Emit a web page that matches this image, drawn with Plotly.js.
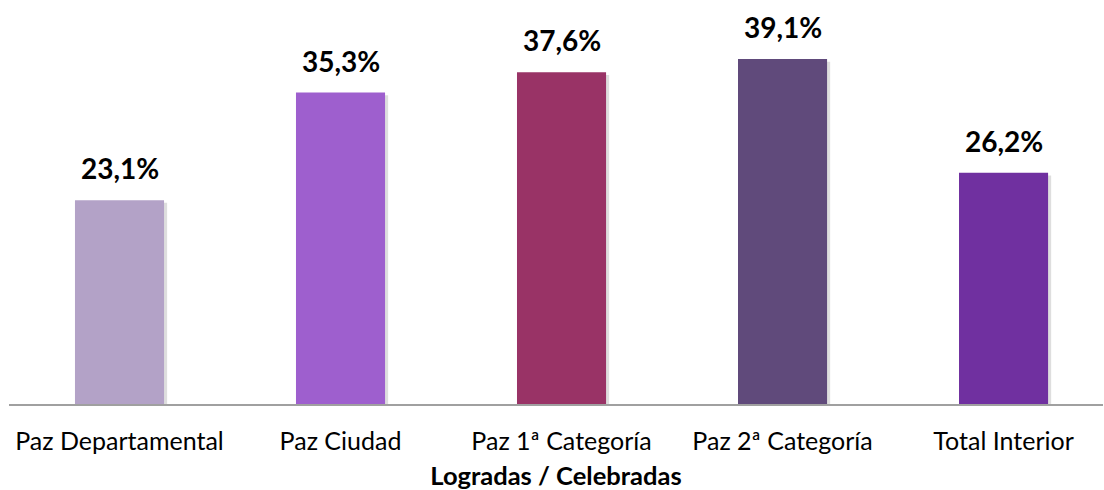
<!DOCTYPE html>
<html>
<head>
<meta charset="utf-8">
<script src="https://cdn.plot.ly/plotly-3.0.1.min.js"></script>
<style>html,body{margin:0;padding:0;background:#fff;}#chart{width:1104px;height:490px;}</style>
</head>
<body>
<div id="chart"></div>
<script>
const categories = ["Paz Departamental", "Paz Ciudad", "Paz 1ª Categoría", "Paz 2ª Categoría", "Total Interior"];
const values = [23.1, 35.3, 37.6, 39.1, 26.2];
const barColors = ["#B3A2C7", "#9E5FCE", "#993366", "#604A7B", "#7030A0"];
const axisTitle = "Logradas / Celebradas";

const labels = values.map(v => v.toFixed(1).replace('.', ',') + '%');
const FONT = "Lato, 'Open Sans', sans-serif";
const BW = 0.403;

const shadow = {
  type: 'bar',
  x: categories,
  y: values.map(v => v - 0.3),
  width: BW, offset: -BW / 2 + 0.014,
  marker: {color: 'rgba(0,0,0,0.13)', line: {width: 0}},
  hoverinfo: 'skip'
};

const trace = {
  type: 'bar',
  x: categories,
  y: values,
  width: BW, offset: -BW / 2,
  marker: {color: barColors, line: {width: 0}},
  hoverinfo: 'skip'
};

const annotations = categories.map((c, i) => ({
  x: c, y: values[i], xref: 'x', yref: 'y',
  text: '<b>' + labels[i] + '</b>',
  showarrow: false, yanchor: 'bottom', yshift: 13,
  font: {family: FONT, size: 28, color: '#000'}
}));

const layout = {
  width: 1104, height: 490,
  margin: {l: 9, r: 1, t: 7, b: 86},
  paper_bgcolor: '#fff', plot_bgcolor: '#fff',
  barmode: 'overlay',
  showlegend: false,
  xaxis: {
    range: [-0.5, 4.45],
    showline: true, linecolor: '#A0A0A0', linewidth: 2,
    ticks: '', showgrid: false, zeroline: false,
    ticklabelstandoff: 14,
    tickfont: {family: FONT, size: 25, color: '#000'},
    title: {text: '<b>' + axisTitle + '</b>', font: {family: FONT, size: 25.5, color: '#000'}, standoff: 15}
  },
  yaxis: {
    range: [0, 45], visible: false, showgrid: false, zeroline: false
  },
  annotations: annotations
};

Plotly.newPlot('chart', [shadow, trace], layout, {displayModeBar: false, staticPlot: true});
</script>
</body>
</html>
